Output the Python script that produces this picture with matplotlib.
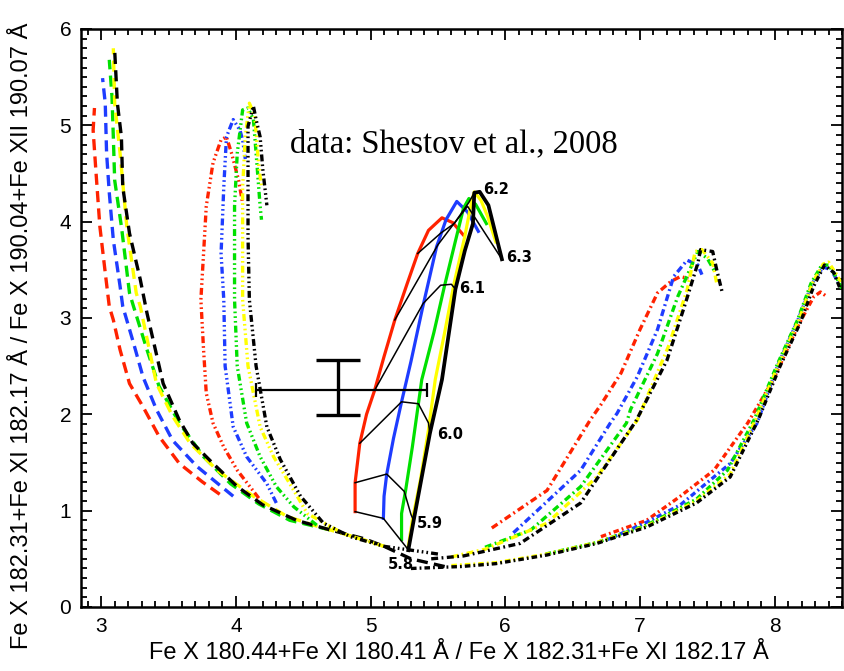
import matplotlib
matplotlib.use("Agg")
import matplotlib.pyplot as plt
from matplotlib.ticker import MultipleLocator

plt.rcParams["lines.scale_dashes"] = False

# Density colours, drawn in this order for every family of curves
curve_colors = ["#ff2200", "#1e3cff", "#00e000", "#ffff00", "#000000"]

# Long-dashed family (red, blue, green, yellow, black)
long_dash_x = [
    [3.88, 3.75, 3.58, 3.43, 3.31, 3.21, 3.14, 3.09, 3.06, 3.03, 2.99, 2.96, 2.94, 2.95],
    [3.98, 3.71, 3.53, 3.41, 3.31, 3.24, 3.16, 3.14, 3.09, 3.06, 3.04, 3.03, 3.01],
    [4.70, 4.40, 4.17, 3.96, 3.76, 3.58, 3.43, 3.34, 3.24, 3.21, 3.15, 3.10, 3.09, 3.08, 3.06],
    [5.10, 4.90, 4.60, 4.38, 4.13, 3.86, 3.66, 3.53, 3.41, 3.29, 3.26, 3.19, 3.14, 3.10, 3.09],
    [5.55, 5.30, 5.10, 4.95, 4.70, 4.45, 4.20, 4.01, 3.83, 3.68, 3.58, 3.46, 3.34, 3.29, 3.21, 3.16, 3.15, 3.12, 3.10],
]
long_dash_y = [
    [1.17, 1.30, 1.49, 1.77, 2.08, 2.32, 2.67, 2.98, 3.12, 3.47, 3.95, 4.54, 4.95, 5.18],
    [1.15, 1.46, 1.73, 2.05, 2.39, 2.74, 3.12, 3.33, 3.81, 4.30, 4.71, 5.23, 5.49],
    [0.80, 0.90, 1.07, 1.28, 1.56, 1.91, 2.29, 2.67, 3.12, 3.26, 3.95, 4.43, 4.88, 5.30, 5.68],
    [0.63, 0.72, 0.84, 0.94, 1.15, 1.42, 1.70, 1.98, 2.32, 3.12, 3.26, 3.95, 4.71, 5.23, 5.80],
    [0.42, 0.50, 0.63, 0.71, 0.80, 0.90, 1.06, 1.25, 1.49, 1.70, 1.94, 2.32, 3.05, 3.40, 3.88, 4.36, 4.88, 5.23, 5.78],
]

# Dash-dot-dot-dot family peaking near x = 4
dash3dot_x = [
    [4.17, 4.01, 3.91, 3.83, 3.78, 3.76, 3.74, 3.76, 3.78, 3.83, 3.89, 3.93, 3.97, 4.02, 4.05],
    [4.30, 4.23, 4.08, 3.98, 3.92, 3.91, 3.89, 3.91, 3.93, 3.98, 4.03, 4.05, 4.07],
    [4.60, 4.43, 4.30, 4.18, 4.08, 4.01, 3.99, 3.99, 4.01, 4.05, 4.09, 4.13, 4.15, 4.18, 4.19],
    [5.10, 4.80, 4.53, 4.43, 4.28, 4.18, 4.09, 4.05, 4.05, 4.05, 4.07, 4.10, 4.14, 4.17, 4.19],
    [5.50, 5.10, 4.85, 4.65, 4.48, 4.33, 4.23, 4.15, 4.10, 4.09, 4.09, 4.09, 4.13, 4.15, 4.18, 4.20, 4.23],
]
dash3dot_y = [
    [1.13, 1.42, 1.66, 1.91, 2.22, 2.67, 3.19, 3.67, 4.16, 4.61, 4.85, 4.88, 4.70, 4.43, 4.19],
    [1.08, 1.28, 1.56, 1.87, 2.50, 3.19, 3.67, 4.36, 4.88, 5.06, 4.95, 4.85, 4.65],
    [0.85, 1.04, 1.25, 1.56, 1.91, 2.50, 3.19, 4.16, 4.71, 5.16, 5.18, 5.06, 4.71, 4.16, 4.02],
    [0.63, 0.76, 0.97, 1.21, 1.56, 1.87, 2.50, 3.19, 3.67, 4.36, 4.88, 5.23, 5.10, 4.57, 4.36],
    [0.55, 0.63, 0.73, 0.87, 1.15, 1.53, 1.87, 2.50, 3.19, 3.85, 4.54, 4.99, 5.20, 5.06, 4.88, 4.54, 4.17],
]

# Solid family with the temperature grid
solid_x = [
    [4.885, 4.885, 4.92, 4.97, 5.03, 5.10, 5.18, 5.27, 5.35, 5.43, 5.53, 5.61, 5.69],
    [5.095, 5.10, 5.12, 5.17, 5.23, 5.30, 5.385, 5.49, 5.56, 5.64, 5.72, 5.80],
    [5.23, 5.23, 5.26, 5.31, 5.38, 5.47, 5.55, 5.63, 5.69, 5.73, 5.78, 5.86],
    [5.28, 5.31, 5.37, 5.43, 5.48, 5.55, 5.62, 5.70, 5.75, 5.77, 5.82, 5.87, 5.93],
    [5.28, 5.32, 5.44, 5.53, 5.63, 5.70, 5.76, 5.77, 5.81, 5.875, 5.975],
]
solid_y = [
    [0.99, 1.29, 1.70, 2.00, 2.25, 2.60, 2.98, 3.35, 3.67, 3.91, 4.04, 3.99, 3.86],
    [0.92, 1.15, 1.38, 1.75, 2.13, 2.55, 3.10, 3.74, 4.02, 4.21, 4.10, 3.90],
    [0.70, 0.97, 1.21, 1.66, 2.36, 2.85, 3.34, 3.80, 4.14, 4.24, 4.18, 3.98],
    [0.63, 0.90, 1.32, 1.84, 2.36, 2.85, 3.36, 3.85, 4.21, 4.31, 4.22, 4.05, 3.79],
    [0.59, 0.90, 1.80, 2.36, 3.30, 3.70, 3.98, 4.30, 4.31, 4.17, 3.61],
]

# Lines of constant log T across the solid curves
iso_labels = ["5.8", "5.9", "6.0", "6.1", "6.2", "6.3"]
iso_x = [
    [4.885, 5.095, 5.22, 5.26, 5.28],
    [4.885, 5.12, 5.25, 5.30, 5.32],
    [4.92, 5.23, 5.355, 5.43, 5.44],
    [5.03, 5.39, 5.52, 5.60, 5.63],
    [5.18, 5.50, 5.63, 5.73, 5.77],
    [5.35, 5.52, 5.62, 5.72, 5.975],
]
iso_y = [
    [0.99, 0.92, 0.70, 0.63, 0.59],
    [1.29, 1.38, 1.20, 0.96, 0.90],
    [1.70, 2.13, 2.11, 1.91, 1.80],
    [2.25, 3.15, 3.34, 3.35, 3.30],
    [2.98, 3.76, 4.00, 4.20, 4.30],
    [3.67, 3.88, 3.98, 4.16, 3.61],
]
iso_label_x = [5.225, 5.44, 5.59, 5.755, 5.93, 6.10]
iso_label_y = [0.44, 0.87, 1.79, 3.31, 4.33, 3.63]

# Dash-dot family peaking near x = 7.45
dash_dot_x = [
    [5.90, 6.31, 6.63, 6.71, 6.86, 7.00, 7.13, 7.23, 7.30, 7.36],
    [6.06, 6.56, 6.78, 6.83, 6.98, 7.13, 7.25, 7.35, 7.43, 7.46],
    [5.85, 6.19, 6.56, 6.90, 6.93, 7.13, 7.28, 7.43, 7.50, 7.56],
    [5.60, 5.85, 6.31, 6.68, 6.98, 7.21, 7.35, 7.41, 7.46, 7.54, 7.57],
    [5.45, 5.69, 6.11, 6.56, 6.97, 7.20, 7.33, 7.43, 7.45, 7.54, 7.57, 7.61],
]
dash_dot_y = [
    [0.82, 1.21, 1.94, 2.10, 2.43, 2.88, 3.26, 3.38, 3.43, 3.41],
    [0.77, 1.42, 1.91, 2.01, 2.39, 2.88, 3.43, 3.60, 3.55, 3.45],
    [0.62, 0.80, 1.25, 1.91, 2.05, 2.63, 3.22, 3.69, 3.62, 3.47],
    [0.52, 0.60, 0.87, 1.35, 1.94, 2.70, 3.29, 3.69, 3.71, 3.57, 3.36],
    [0.50, 0.53, 0.66, 1.08, 1.93, 2.56, 3.12, 3.57, 3.71, 3.69, 3.50, 3.27],
]

# Short dash-dot family peaking near x = 8.4
short_dash_dot_x = [
    [6.71, 7.05, 7.30, 7.55, 7.80, 7.99, 8.17, 8.29, 8.34, 8.39],
    [6.76, 7.05, 7.30, 7.67, 7.87, 8.02, 8.17, 8.28, 8.36, 8.42, 8.48],
    [6.30, 6.68, 7.05, 7.42, 7.65, 7.85, 8.02, 8.17, 8.27, 8.35, 8.40, 8.46, 8.50],
    [5.60, 5.93, 6.31, 6.68, 7.05, 7.42, 7.67, 7.86, 8.03, 8.18, 8.28, 8.36, 8.40, 8.46, 8.50],
    [5.30, 5.67, 5.93, 6.31, 6.68, 7.05, 7.42, 7.67, 7.88, 8.04, 8.19, 8.29, 8.37, 8.44, 8.49],
]
short_dash_dot_y = [
    [0.73, 0.90, 1.15, 1.42, 1.91, 2.36, 2.91, 3.22, 3.27, 3.22],
    [0.70, 0.88, 1.06, 1.49, 1.91, 2.50, 2.97, 3.36, 3.53, 3.50, 3.35],
    [0.55, 0.67, 0.85, 1.12, 1.42, 1.95, 2.52, 2.98, 3.36, 3.55, 3.55, 3.42, 3.30],
    [0.43, 0.46, 0.55, 0.67, 0.84, 1.10, 1.38, 1.95, 2.52, 2.98, 3.36, 3.56, 3.58, 3.45, 3.35],
    [0.40, 0.42, 0.45, 0.54, 0.66, 0.83, 1.08, 1.35, 1.95, 2.50, 2.95, 3.33, 3.55, 3.47, 3.29],
]

# Observed ratio with its uncertainties
obs_x, obs_y = 4.76, 2.25
obs_x_low, obs_x_high = 4.15, 5.42
obs_y_low, obs_y_high = 1.99, 2.56

x_label = "Fe X 180.44+Fe XI 180.41 \u00c5 / Fe X 182.31+Fe XI 182.17 \u00c5"
y_label = "Fe X 182.31+Fe XI 182.17 \u00c5 / Fe X 190.04+Fe XII 190.07 \u00c5"
note_text = "data: Shestov et al., 2008"

W, H = 845, 671
fig = plt.figure(figsize=(W / 100, H / 100), dpi=100)
ax = fig.add_axes([81 / W, 1 - 607 / H, (842 - 81) / W, (607 - 29) / H])
ax.set_xlim(2.85, 8.5)
ax.set_ylim(0, 6)

lw = 2.4
families = [
    (long_dash_x, long_dash_y, (8, 4.5)),
    (dash3dot_x, dash3dot_y, (5, 2.2, 1.2, 2.2, 1.2, 2.2, 1.2, 2.2)),
    (dash_dot_x, dash_dot_y, (5, 2.5, 1.3, 2.5)),
    (short_dash_dot_x, short_dash_dot_y, (4, 2.2, 1.3, 2.2)),
]
for fx, fy, dash in families:
    for xs, ys, c in zip(fx, fy, curve_colors):
        ax.plot(xs, ys, color=c, lw=lw, dashes=dash, dash_capstyle="butt")

for xs, ys, c in zip(solid_x, solid_y, curve_colors):
    ax.plot(xs, ys, color=c, lw=2.3 if c != "#000000" else 2.7)

for xs, ys in zip(iso_x, iso_y):
    ax.plot(xs, ys, color="black", lw=1.1)
for lab, lx, ly in zip(iso_labels, iso_label_x, iso_label_y):
    ax.text(lx, ly, lab, fontsize=10.5, fontweight="bold", ha="center", va="center",
            family="DejaVu Sans")

ax.errorbar([obs_x], [obs_y], xerr=[[obs_x - obs_x_low], [obs_x_high - obs_x]],
            fmt="none", ecolor="black", elinewidth=1.6, capsize=5, capthick=1.6)
ax.errorbar([obs_x], [obs_y], yerr=[[obs_y - obs_y_low], [obs_y_high - obs_y]],
            fmt="none", ecolor="black", elinewidth=2.4, capsize=15.5, capthick=2.4)

ax.text(4.40, 4.72, note_text, fontsize=23.5, family="Liberation Serif",
        ha="left", va="baseline")

ax.xaxis.set_major_locator(MultipleLocator(1))
ax.xaxis.set_minor_locator(MultipleLocator(0.1))
ax.yaxis.set_major_locator(MultipleLocator(1))
ax.yaxis.set_minor_locator(MultipleLocator(0.1))
ax.tick_params(which="both", direction="in", top=True, right=True, width=1.3)
ax.tick_params(which="major", length=8, labelsize=15, pad=7)
ax.tick_params(which="minor", length=4)
for lab in ax.get_xticklabels() + ax.get_yticklabels():
    lab.set_family("Liberation Sans")
for s in ax.spines.values():
    s.set_linewidth(1.8)

fig.text(459 / W, 1 - 653 / H, x_label, fontsize=17, family="Liberation Sans",
         ha="center", va="center")
fig.text(22 / W, 1 - 336 / H, y_label, fontsize=17, family="Liberation Sans",
         ha="center", va="center", rotation=90)

fig.savefig("out.png", dpi=100)
